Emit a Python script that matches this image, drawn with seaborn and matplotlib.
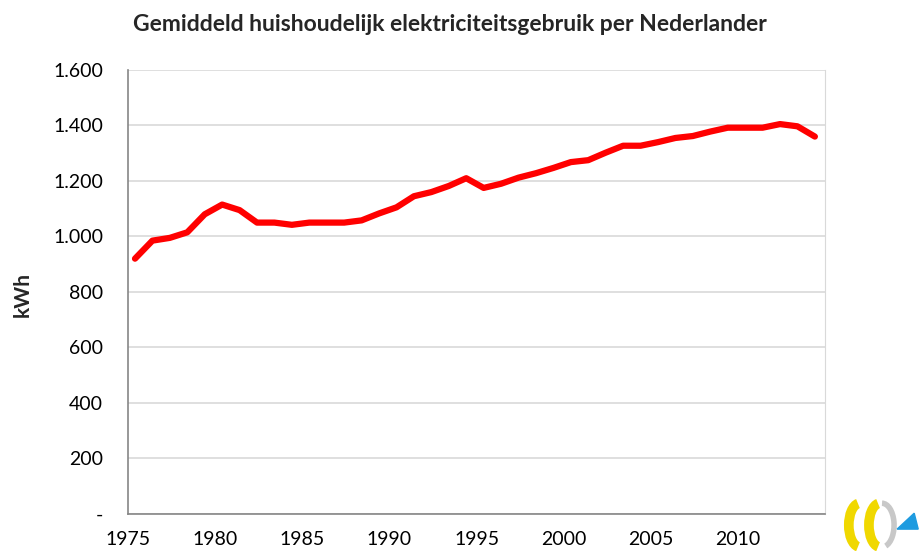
import matplotlib
matplotlib.use("Agg")
import matplotlib.pyplot as plt
import seaborn as sns
import pandas as pd
from matplotlib.patches import Arc, Polygon
from matplotlib.ticker import FuncFormatter

years = list(range(1975, 2015))
kwh = [920, 985, 995, 1015, 1080, 1115, 1095, 1050, 1050, 1042,
       1050, 1050, 1050, 1058, 1083, 1105, 1145, 1160, 1182, 1210,
       1175, 1190, 1212, 1228, 1247, 1268, 1275, 1302, 1327, 1327,
       1340, 1355, 1362, 1378, 1392, 1392, 1392, 1405, 1397, 1360]
y_ticks = [0, 200, 400, 600, 800, 1000, 1200, 1400, 1600]
x_labels = [1975, 1980, 1985, 1990, 1995, 2000, 2005, 2010]

title = "Gemiddeld huishoudelijk elektriciteitsgebruik per Nederlander"
df = pd.DataFrame({"jaar": years, "kWh": kwh})

sns.set_style("white")
plt.rcParams["font.family"] = ["Lato", "DejaVu Sans"]

fig = plt.figure(figsize=(9.23, 5.51), dpi=100)
ax = fig.add_axes([0.1387, 0.0672, 0.7555, 0.8058])

sns.lineplot(data=df, x="jaar", y="kWh", color="#ff0000", linewidth=4.5, ax=ax)

ax.set_xlim(1974.6, 2014.6)
ax.set_ylim(0, 1600)
ax.set_yticks(y_ticks)
ax.yaxis.set_major_formatter(FuncFormatter(
    lambda v, p: "-" if v == 0 else f"{int(v):,}".replace(",", ".")))
ax.set_xticks([x - 0.4 for x in x_labels] + [2014.6])
ax.set_xticklabels([str(x) for x in x_labels] + [""])
ax.grid(axis="y", color="#d9d9d9", linewidth=1.2)
ax.set_axisbelow(True)

for s in ["left", "bottom"]:
    ax.spines[s].set_color("#868686")
    ax.spines[s].set_linewidth(1.2)
ax.spines["top"].set_visible(False)
ax.spines["right"].set_color("#d9d9d9")
ax.tick_params(axis="both", direction="out", length=7, width=1.2, color="#868686",
               labelsize=14, labelcolor="black")
ax.tick_params(axis="x", pad=5)
ax.tick_params(axis="y", pad=11)

ax.set_xlabel("")
ax.set_ylabel("kWh", fontsize=15, fontweight="bold")
ax.yaxis.set_label_coords(-0.137, 0.495)
fig.text(0.487, 0.955, title, ha="center", va="center", fontsize=16.5, fontweight="bold")

# logo
lax = fig.add_axes([0.912, 0.0, 0.085, 0.13])
lax.set_xlim(0, 78)
lax.set_ylim(0, 72)
lax.axis("off")
lax.add_patch(Arc((18, 26), 22, 44, theta1=95, theta2=265, color="#f0d800", linewidth=7))
lax.add_patch(Arc((38, 26), 22, 44, theta1=95, theta2=265, color="#f0d800", linewidth=7))
lax.add_patch(Arc((40, 26), 24, 44, theta1=-80, theta2=90, color="#c8c8c8", linewidth=4))
lax.add_patch(Polygon([[55, 22], [76, 22], [72, 38]], closed=True, color="#1e9be0"))

fig.savefig("out.png", dpi=100)
